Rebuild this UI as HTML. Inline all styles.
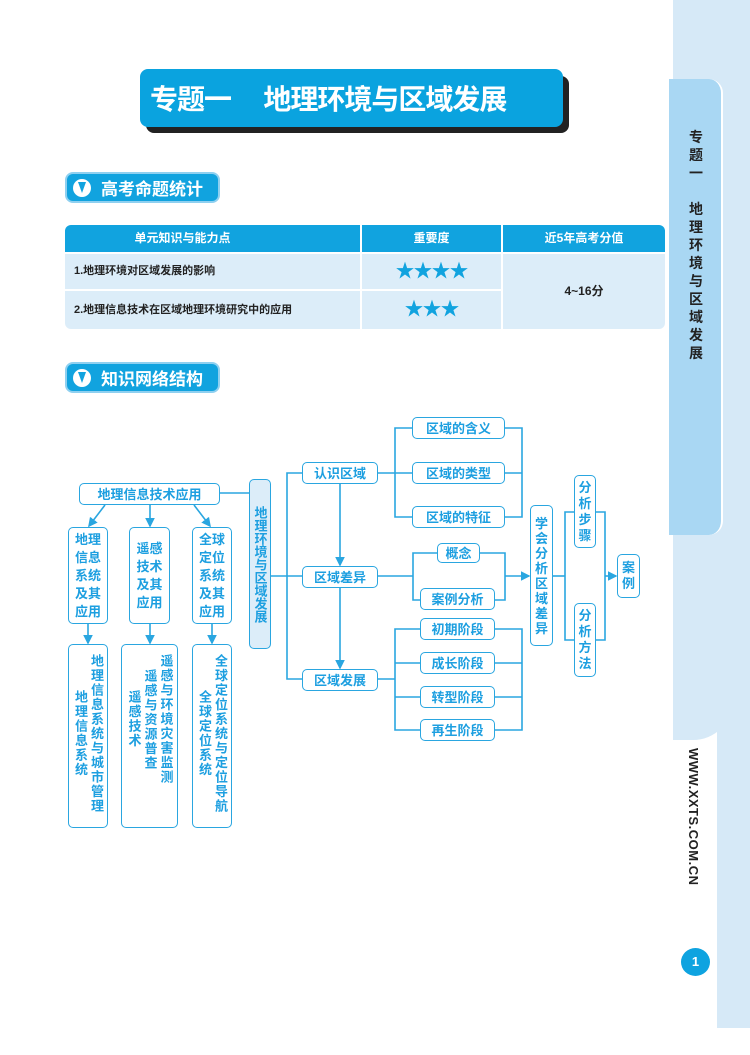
<!DOCTYPE html>
<html><head><meta charset="utf-8">
<style>
*{margin:0;padding:0;box-sizing:border-box}
body{width:750px;height:1055px;position:relative;background:#fff;overflow:hidden;font-family:"Liberation Sans","Noto Sans CJK SC",sans-serif}
.a{position:absolute}
.bx{position:absolute;border:1.6px solid #2aa6e0;border-radius:5px;background:#fff;color:#1d9fe0;font-weight:bold;font-size:13px;display:flex;align-items:center;justify-content:center;text-align:center;line-height:1}
.v{writing-mode:vertical-rl;letter-spacing:1px}
.lv{writing-mode:vertical-rl;justify-content:flex-start;align-items:center;padding-top:9px;line-height:16px;letter-spacing:1.5px}
.hdr{position:absolute;left:65px;width:155px;height:31px;background:#11a3df;border-radius:8px;border:2px solid #8fd0f0;color:#fff;font-size:17px;font-weight:bold;display:flex;align-items:center;padding-left:34px;letter-spacing:0px}
.hdr i{position:absolute;left:6px;top:5px;width:18px;height:18px;border-radius:50%;background:#fff;}
.hdr i:after{content:"";position:absolute;left:5px;top:3px;width:0;height:0;border-left:4px solid transparent;border-right:4px solid transparent;border-top:11px solid #11a3df}
</style></head><body>
<!-- right strip -->
<div class="a" style="left:673px;top:0;width:77px;height:340px;background:#d6e9f7"></div>
<div class="a" style="left:717px;top:330px;width:33px;height:698px;background:#d6e9f7"></div>
<div class="a" style="left:673px;top:330px;width:60px;height:410px;background:#d6e9f7;border-bottom-right-radius:40px"></div>
<div class="a" style="left:669px;top:79px;width:54px;height:456px;background:#a9d7f3;border-radius:0 14px 14px 0;border-right:2px solid #fff"></div>
<div class="a" style="left:686px;top:128px;width:20px;font-size:14px;font-weight:bold;color:#222;line-height:18px;text-align:center">专<br>题<br>一<br><br>地<br>理<br>环<br>境<br>与<br>区<br>域<br>发<br>展</div>
<div class="a" style="left:686px;top:748px;writing-mode:vertical-rl;font-size:13px;font-weight:bold;color:#222;letter-spacing:0.5px">WWW.XXTS.COM.CN</div>
<div class="a" style="left:681px;top:948px;width:29px;height:28px;border-radius:50%;background:#0ea3e0;color:#fff;font-weight:bold;font-size:13px;text-align:center;line-height:28px">1</div>

<!-- title -->
<div class="a" style="left:146px;top:76px;width:423px;height:57px;background:#222;border-radius:8px"></div>
<div class="a" style="left:140px;top:69px;width:423px;height:58px;background:#0aa3df;border-radius:8px;color:#fff;font-size:28px;font-weight:bold;line-height:58px;padding-left:10px;white-space:pre;font-family:'Noto Sans CJK SC',sans-serif;letter-spacing:-1px">专题一　 地理环境与区域发展</div>

<div class="hdr" style="top:172px"><i></i>高考命题统计</div>
<div class="hdr" style="top:362px"><i></i>知识网络结构</div>

<!-- table -->
<div class="a" style="left:65px;top:225px;width:600px;height:104px;border-radius:6px;overflow:hidden;background:#fff">
<div class="a" style="left:0;top:0;width:295px;height:27px;background:#11a3df;color:#fff;font-size:12px;font-weight:bold;line-height:27px;text-align:center;padding-right:60px">单元知识与能力点</div>
<div class="a" style="left:297px;top:0;width:139px;height:27px;background:#11a3df;color:#fff;font-size:12px;font-weight:bold;line-height:27px;text-align:center">重要度</div>
<div class="a" style="left:438px;top:0;width:162px;height:27px;background:#11a3df;color:#fff;font-size:12px;font-weight:bold;line-height:27px;text-align:center">近5年高考分值</div>
<div class="a" style="left:0;top:29px;width:295px;height:35px;background:#dcedf9;font-size:11px;font-weight:bold;line-height:35px;padding-left:9px;color:#222">1.地理环境对区域发展的影响</div>
<div class="a" style="left:297px;top:29px;width:139px;height:35px;background:#dcedf9;font-size:19px;line-height:35px;text-align:center;color:#11a3df;letter-spacing:-1px">★★★★</div>
<div class="a" style="left:0;top:66px;width:295px;height:38px;background:#dcedf9;font-size:11px;font-weight:bold;line-height:38px;padding-left:9px;color:#222">2.地理信息技术在区域地理环境研究中的应用</div>
<div class="a" style="left:297px;top:66px;width:139px;height:38px;background:#dcedf9;font-size:19px;line-height:38px;text-align:center;color:#11a3df;letter-spacing:-1px">★★★</div>
<div class="a" style="left:438px;top:29px;width:162px;height:75px;background:#dcedf9;font-size:12px;font-weight:bold;line-height:75px;text-align:center;color:#222">4~16分</div>
</div>

<!-- connectors -->
<svg class="a" style="left:0;top:0" width="750" height="1055">
<defs><marker id="ar" markerWidth="6" markerHeight="6" refX="5" refY="3" orient="auto"><path d="M0,0 L6,3 L0,6 z" fill="#2aa6e0"/></marker></defs>
<g stroke="#2aa6e0" stroke-width="1.6" fill="none">
<line x1="105" y1="505" x2="89" y2="526" marker-end="url(#ar)"/>
<line x1="150" y1="505" x2="150" y2="526" marker-end="url(#ar)"/>
<line x1="194" y1="505" x2="210" y2="526" marker-end="url(#ar)"/>
<line x1="88" y1="624" x2="88" y2="643" marker-end="url(#ar)"/>
<line x1="150" y1="624" x2="150" y2="643" marker-end="url(#ar)"/>
<line x1="212" y1="624" x2="212" y2="643" marker-end="url(#ar)"/>
<line x1="220" y1="493" x2="249" y2="493"/>
<line x1="270" y1="576" x2="302" y2="576"/>
<polyline points="302,473 287,473 287,679 302,679"/>
<line x1="340" y1="483" x2="340" y2="565" marker-end="url(#ar)"/>
<line x1="340" y1="587" x2="340" y2="668" marker-end="url(#ar)"/>
<line x1="378" y1="473" x2="412" y2="473"/>
<polyline points="412,428 395,428 395,517 412,517"/>
<polyline points="505,428 522,428 522,517 505,517"/>
<line x1="505" y1="473" x2="522" y2="473"/>
<line x1="378" y1="576" x2="413" y2="576"/>
<polyline points="437,553 413,553 413,600 420,600"/>
<polyline points="480,553 505,553 505,600 495,600"/>
<line x1="505" y1="576" x2="529" y2="576" marker-end="url(#ar)"/>
<line x1="378" y1="679" x2="395" y2="679"/>
<polyline points="420,629 395,629 395,730 420,730"/>
<line x1="395" y1="663" x2="420" y2="663"/><line x1="395" y1="697" x2="420" y2="697"/>
<polyline points="495,629 522,629 522,730 495,730"/>
<line x1="495" y1="663" x2="522" y2="663"/><line x1="495" y1="697" x2="522" y2="697"/>
<line x1="553" y1="576" x2="565" y2="576"/>
<polyline points="574,512 565,512 565,640 574,640"/>
<polyline points="596,512 605,512 605,640 596,640"/>
<line x1="605" y1="576" x2="616" y2="576" marker-end="url(#ar)"/>
</g></svg>

<!-- boxes -->
<div class="bx" style="left:79px;top:483px;width:141px;height:22px">地理信息技术应用</div>
<div class="bx" style="left:68px;top:527px;width:40px;height:97px;line-height:18px">地理<br>信息<br>系统<br>及其<br>应用</div>
<div class="bx" style="left:129px;top:527px;width:41px;height:97px;line-height:18px">遥感<br>技术<br>及其<br>应用</div>
<div class="bx" style="left:192px;top:527px;width:40px;height:97px;line-height:18px">全球<br>定位<br>系统<br>及其<br>应用</div>
<div class="bx lv" style="left:68px;top:644px;width:40px;height:184px">地理信息系统与城市管理<br>地理信息系统</div>
<div class="bx lv" style="left:121px;top:644px;width:57px;height:184px">遥感与环境灾害监测<br>遥感与资源普查<br>遥感技术</div>
<div class="bx lv" style="left:192px;top:644px;width:40px;height:184px">全球定位系统与定位导航<br>全球定位系统</div>
<div class="bx v" style="left:249px;top:479px;width:22px;height:170px;background:#dcedf9;letter-spacing:0;line-height:1">地理环境与区域发展</div>
<div class="bx" style="left:302px;top:462px;width:76px;height:22px">认识区域</div>
<div class="bx" style="left:302px;top:566px;width:76px;height:22px">区域差异</div>
<div class="bx" style="left:302px;top:669px;width:76px;height:22px">区域发展</div>
<div class="bx" style="left:412px;top:417px;width:93px;height:22px">区域的含义</div>
<div class="bx" style="left:412px;top:462px;width:93px;height:22px">区域的类型</div>
<div class="bx" style="left:412px;top:506px;width:93px;height:22px">区域的特征</div>
<div class="bx" style="left:437px;top:543px;width:43px;height:20px">概念</div>
<div class="bx" style="left:420px;top:588px;width:75px;height:22px">案例分析</div>
<div class="bx" style="left:420px;top:618px;width:75px;height:22px">初期阶段</div>
<div class="bx" style="left:420px;top:652px;width:75px;height:22px">成长阶段</div>
<div class="bx" style="left:420px;top:686px;width:75px;height:22px">转型阶段</div>
<div class="bx" style="left:420px;top:719px;width:75px;height:22px">再生阶段</div>
<div class="bx" style="left:530px;top:505px;width:23px;height:141px;line-height:15px">学<br>会<br>分<br>析<br>区<br>域<br>差<br>异</div>
<div class="bx" style="left:574px;top:475px;width:22px;height:73px;line-height:16px">分<br>析<br>步<br>骤</div>
<div class="bx" style="left:574px;top:603px;width:22px;height:74px;line-height:16px">分<br>析<br>方<br>法</div>
<div class="bx" style="left:617px;top:554px;width:23px;height:44px;line-height:16px">案<br>例</div>
</body></html>
